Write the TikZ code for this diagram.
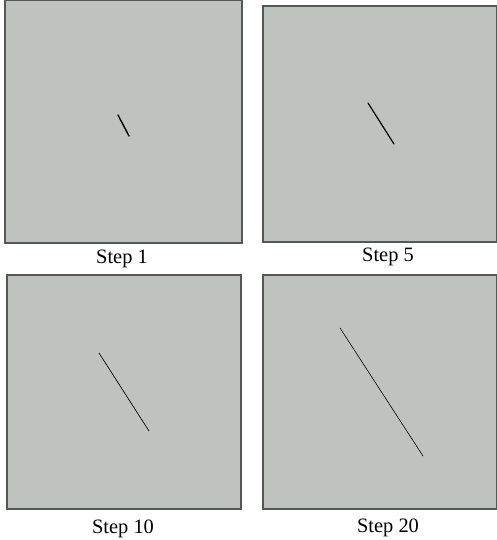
\documentclass[tikz,border=0pt]{standalone}
\usepackage{fontspec}
\setmainfont{Liberation Serif}
\usepackage{xcolor}
\usepackage{tikz}
\definecolor{panelgray}{RGB}{190,195,191}
\definecolor{edgegray}{RGB}{85,88,86}

\begin{document}
\begin{tikzpicture}[
  x=1bp, y=-1bp,
  panel/.style={fill=panelgray, draw=edgegray, line width=1.1bp},
  crack/.style={draw=black, line cap=round},
  steplabel/.style={font=\fontsize{20.5}{24}\selectfont, inner sep=0pt}
]
  \useasboundingbox (0,0) rectangle (497,540);

  % panels
  \draw[panel] (5,0) rectangle (242,243);
  \draw[panel] (263,6) rectangle (497,242);
  \draw[panel] (7,275) rectangle (241,509);
  \draw[panel] (263,275) rectangle (497,509);

  % crack at each step
  \draw[crack, line width=1.4bp] (118,115) -- (129,136);
  \draw[crack, line width=1.2bp] (368,103) -- (394,144);
  \draw[crack, line width=0.7bp] (99,353) -- (149,431);
  \draw[crack, line width=0.6bp] (340,328) -- (423,456);

  % labels
  \node[steplabel] (s1) at (122,259) {Step 1};
  \node[steplabel] (s5) at (388,257) {Step 5};
  \node[steplabel] (s10) at (123,529) {Step 10};
  \node[steplabel] (s20) at (388,528) {Step 20};
\end{tikzpicture}
\end{document}
